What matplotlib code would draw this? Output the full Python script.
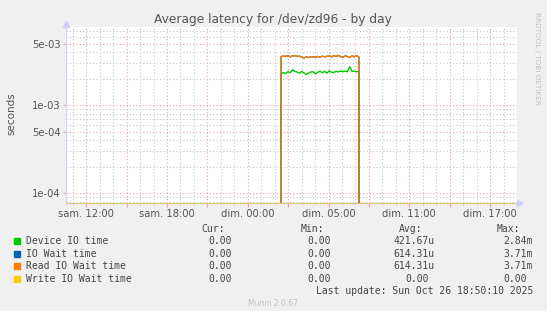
import numpy as np
import matplotlib
matplotlib.use("Agg")
import matplotlib.pyplot as plt
from matplotlib.ticker import FixedLocator, MultipleLocator, FuncFormatter
from matplotlib.patches import Rectangle

# hours after sam. 12:00
label_hours = [0, 6, 12, 18, 24, 30]
label_text = ["sam. 12:00", "sam. 18:00", "dim. 00:00", "dim. 05:00", "dim. 11:00", "dim. 17:00"]

# busy period (hours) and 10-minute samples, in milliseconds
busy_start = 14.48
busy_end = 20.26
read_wait = [3.58, 3.64, 3.60, 3.66, 3.57, 3.65, 3.69, 3.61, 3.63, 3.52, 3.47, 3.55,
             3.50, 3.58, 3.56, 3.54, 3.60, 3.55, 3.62, 3.57, 3.61, 3.66, 3.56, 3.68,
             3.60, 3.71, 3.58, 3.53, 3.65, 3.59, 3.52, 3.66, 3.57, 3.68, 3.55]
device_io = [2.26, 2.36, 2.30, 2.42, 2.35, 2.55, 2.44, 2.39, 2.32, 2.43, 2.33, 2.24,
             2.33, 2.40, 2.41, 2.28, 2.37, 2.46, 2.34, 2.44, 2.32, 2.47, 2.38, 2.36,
             2.44, 2.40, 2.46, 2.42, 2.45, 2.42, 2.76, 2.43, 2.45, 2.41, 2.46]

names = ["Device IO time", "IO Wait time", "Read IO Wait time", "Write IO Wait time"]
colors = ["#00cc00", "#0066b3", "#ff8000", "#ffcc00"]
cur_vals = ["0.00", "0.00", "0.00", "0.00"]
min_vals = ["0.00", "0.00", "0.00", "0.00"]
avg_vals = ["421.67u", "614.31u", "614.31u", "0.00"]
max_vals = ["2.84m", "3.71m", "3.71m", "0.00"]

W, H = 547, 311
fig = plt.figure(figsize=(W / 100, H / 100), dpi=100, facecolor="#f0f0f0")
ax = fig.add_axes([66 / W, 1 - 202.5 / H, (517 - 66) / W, (202.5 - 27.3) / H])
ax.set_facecolor("white")

t_busy = np.linspace(busy_start, busy_end, len(read_wait))
t = np.concatenate([[-1.6, busy_start - 0.05], t_busy, [busy_end + 0.08, 32.1]])
def pad(v):
    return np.concatenate([[0, 0], np.array(v) * 1e-3, [0, 0]])

ax.plot(t, pad(device_io), color=colors[0], lw=1)
ax.plot(t, pad(read_wait), color=colors[1], lw=1)
ax.plot(t, pad(read_wait), color=colors[2], lw=1)

ax.set_yscale("log")
ax.set_xlim(-1.5, 32.0)
ax.set_ylim(7.8e-5, 7.74e-3)

ax.yaxis.set_major_locator(FixedLocator([1e-4, 5e-4, 1e-3, 5e-3]))
ax.yaxis.set_minor_locator(FixedLocator([m * 10.0 ** e for e in (-5, -4, -3)
                                         for m in (2, 3, 4, 6, 7, 8, 9)]))
ax.yaxis.set_major_formatter(FuncFormatter(lambda v, p: f"{v:.0e}"))
ax.yaxis.set_minor_formatter(FuncFormatter(lambda v, p: ""))

ax.xaxis.set_major_locator(MultipleLocator(3))
ax.xaxis.set_minor_locator(MultipleLocator(1))
lab = dict(zip(label_hours, label_text))
ax.xaxis.set_major_formatter(FuncFormatter(lambda v, p: lab.get(int(round(v)), "")))

ax.grid(which="major", color="#e8a0a0", ls=(0, (1, 2)), lw=0.8)
ax.grid(which="minor", color="#c4c4c4", ls=(0, (1, 2)), lw=0.8)

ax.tick_params(axis="both", which="both", labelsize=7.2, labelcolor="#555555", pad=2)
ax.tick_params(axis="x", which="major", length=3, color="#e8a0a0")
ax.tick_params(axis="x", which="minor", length=1.5, color="#c8c8c8")
ax.tick_params(axis="y", which="major", length=2, color="#e8a0a0")
ax.tick_params(axis="y", which="minor", length=0)

for s in ("top", "right"):
    ax.spines[s].set_visible(False)
ax.spines["left"].set_color("#d0d0f8")
ax.spines["bottom"].set_color("#dcc680")
ax.plot([0], [1.02], marker="^", ms=4, color="#ccccff", transform=ax.transAxes, clip_on=False)
ax.plot([1.007], [0], marker=">", ms=4, color="#ccccff", transform=ax.transAxes, clip_on=False)

fig.text(273 / W, 1 - 20 / H, "Average latency for /dev/zd96 - by day",
         ha="center", va="center", fontsize=8.8, color="#555555")
fig.text(11 / W, 1 - 114 / H, "seconds", rotation=90, ha="center", va="center",
         fontsize=7.5, color="#555555")
fig.text(537 / W, 1 - 58 / H, "RRDTOOL / TOBI OETIKER", rotation=270, ha="center",
         va="center", fontsize=5.2, color="#c0c0c0")

mono = dict(family="DejaVu Sans Mono", fontsize=7, color="#444444", va="center")
fy = lambda y: 1 - y / H
fig.text(225 / W, fy(229), "Cur:", ha="right", **mono)
fig.text(324 / W, fy(229), "Min:", ha="right", **mono)
fig.text(422 / W, fy(229), "Avg:", ha="right", **mono)
fig.text(520 / W, fy(229), "Max:", ha="right", **mono)

cw = 6.6
def xend(x, s):
    return (x - (0 if s[-1].isalpha() else cw)) / W

rows_y = [241, 254, 266, 279]
for i, y in enumerate(rows_y):
    fig.patches.append(Rectangle((14 / W, fy(y + 3)), 6 / W, 6 / H, color=colors[i],
                                 transform=fig.transFigure, figure=fig))
    fig.text(26 / W, fy(y), names[i], ha="left", **mono)
    fig.text(xend(238, cur_vals[i]), fy(y), cur_vals[i], ha="right", **mono)
    fig.text(xend(337, min_vals[i]), fy(y), min_vals[i], ha="right", **mono)
    fig.text(xend(435, avg_vals[i]), fy(y), avg_vals[i], ha="right", **mono)
    fig.text(xend(533, max_vals[i]), fy(y), max_vals[i], ha="right", **mono)

fig.text(533 / W, fy(291.5), "Last update: Sun Oct 26 18:50:10 2025", ha="right", **mono)
fig.text(273 / W, fy(304), "Munin 2.0.67", ha="center", va="center",
         fontsize=5.5, color="#c0c0c0")

fig.savefig("out.png", dpi=100, facecolor=fig.get_facecolor())
